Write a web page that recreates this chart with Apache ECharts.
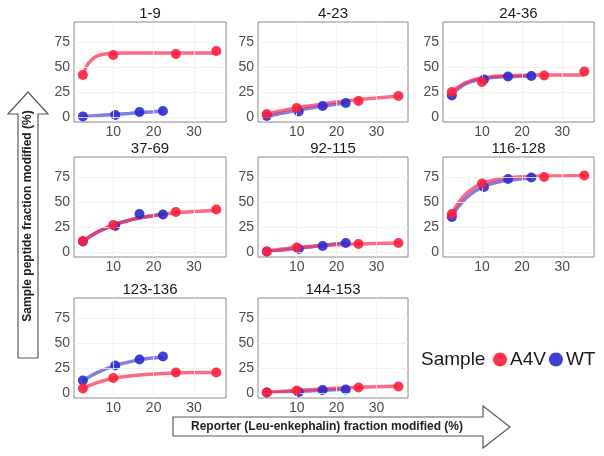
<!DOCTYPE html>
<html>
<head>
<meta charset="utf-8">
<script src="https://cdn.jsdelivr.net/npm/echarts@6/dist/echarts.min.js"></script>
<style>html,body{margin:0;padding:0;background:#fff}#c{width:604px;height:456px}</style>
</head>
<body>
<div id="c"></div>
<script>
// ---- data ----
const panelTitles = ['1-9', '4-23', '24-36', '37-69', '92-115', '116-128', '123-136', '144-153'];
const seriesNames = ['A4V', 'WT'];
const yTicks = [0, 25, 50, 75];
const xTicks = [10, 20, 30];

// measured points (reporter % modified)
const xA4V = [2.5, 10, 25.5, 35.5];
const xWT = [2.5, 10.5, 16.5, 22.3];

const a4v_1_9 = [42, 62, 63, 66];
const wt_1_9 = [0.5, 2, 5, 6];
const a4v_4_23 = [3, 9, 16, 21];
const wt_4_23 = [1, 5.5, 11, 14];
const a4v_24_36 = [25, 35, 41.5, 45.5];
const wt_24_36 = [21.5, 37.5, 40.5, 41];
const a4v_37_69 = [11, 27, 40, 42.5];
const wt_37_69 = [10.5, 26, 38, 37.5];
const a4v_92_115 = [0.5, 4.5, 8, 9];
const wt_92_115 = [0.5, 3, 6, 9];
const a4v_116_128 = [38, 68.5, 75, 76.5];
const wt_116_128 = [35, 65, 73, 74.5];
const a4v_123_136 = [4.5, 15, 20.5, 20.5];
const wt_123_136 = [12.5, 27.5, 33.5, 36.5];
const a4v_144_153 = [0.5, 2.5, 5.5, 6.5];
const wt_144_153 = [0.5, 1, 3, 3.5];

// fitted curves at these x positions
const fitXA4V = [2.5, 3, 3.5, 4, 5, 6, 7, 8.5, 10, 12, 14, 16.5, 20, 25, 30, 35.5];
const fitXWT = [2.5, 3, 3.5, 4, 5, 6, 7, 8.5, 10.5, 12, 14, 16.5, 19.5, 22.3];

const fitA4V_1_9 = [42, 47.3, 51.3, 54.4, 58.4, 60.8, 62.2, 63.2, 63.6, 63.9, 64, 64, 64, 64, 64, 64];
const fitWT_1_9 = [0.5, 0.6, 0.7, 0.8, 1.1, 1.4, 1.7, 2.1, 2.7, 3.1, 3.6, 4.3, 5.1, 5.8];
const fitA4V_4_23 = [3, 3.4, 3.9, 4.3, 5.2, 6, 6.8, 8, 9, 10.4, 11.6, 13, 15, 17.2, 19, 21];
const fitWT_4_23 = [0.8, 1.2, 1.6, 2, 2.8, 3.6, 4.3, 5.4, 6.9, 8, 9.3, 10.9, 12.6, 14];
const fitA4V_24_36 = [24.5, 26.4, 28.2, 29.7, 32.3, 34.3, 35.9, 37.7, 39, 40.1, 40.8, 41.4, 41.7, 41.9, 42, 42];
const fitWT_24_36 = [22, 24.3, 26.3, 28, 30.9, 33.2, 34.9, 36.8, 38.5, 39.3, 40, 40.45, 40.75, 40.9];
const fitA4V_37_69 = [11, 12.4, 13.8, 15.1, 17.6, 19.8, 21.8, 24.6, 26.9, 29.7, 31.9, 34.2, 36.6, 39, 40.4, 41.5];
const fitWT_37_69 = [10.5, 12, 13.4, 14.8, 17.3, 19.6, 21.6, 24.4, 27.5, 29.5, 31.8, 34, 36.1, 37.6];
const fitA4V_92_115 = [0.8, 1.1, 1.4, 1.7, 2.2, 2.7, 3.2, 3.9, 4.5, 5.2, 5.8, 6.5, 7.3, 8.1, 8.6, 9.1];
const fitWT_92_115 = [0.5, 0.6, 0.8, 1, 1.4, 1.8, 2.3, 2.9, 3.8, 4.4, 5.3, 6.6, 7.9, 9];
const fitA4V_116_128 = [38, 41.8, 45.3, 48.3, 53.6, 57.9, 61.3, 65.4, 68.3, 71, 72.8, 74.2, 75.2, 75.9, 76.1, 76.2];
const fitWT_116_128 = [35, 38.4, 41.6, 44.5, 49.5, 53.7, 57.2, 61.4, 65.5, 67.8, 70, 71.8, 73.1, 73.9];
const fitA4V_123_136 = [4.5, 5.5, 6.4, 7.3, 8.9, 10.3, 11.6, 13.2, 14.5, 15.9, 17, 18.1, 19.1, 20, 20.5, 20.7];
const fitWT_123_136 = [12, 13.4, 14.7, 15.9, 18.2, 20.3, 22.1, 24.6, 27.4, 29.2, 31.1, 33.1, 34.9, 36.1];
const fitA4V_144_153 = [0.5, 0.6, 0.8, 0.9, 1.2, 1.5, 1.8, 2.2, 2.6, 3.1, 3.5, 4.1, 4.8, 5.6, 6.2, 6.8];
const fitWT_144_153 = [0.5, 0.5, 0.6, 0.6, 0.8, 0.9, 1.1, 1.3, 1.6, 1.9, 2.2, 2.7, 3.2, 3.7];

const a4vPoints = [a4v_1_9, a4v_4_23, a4v_24_36, a4v_37_69, a4v_92_115, a4v_116_128, a4v_123_136, a4v_144_153];
const wtPoints = [wt_1_9, wt_4_23, wt_24_36, wt_37_69, wt_92_115, wt_116_128, wt_123_136, wt_144_153];
const a4vFits = [fitA4V_1_9, fitA4V_4_23, fitA4V_24_36, fitA4V_37_69, fitA4V_92_115, fitA4V_116_128, fitA4V_123_136, fitA4V_144_153];
const wtFits = [fitWT_1_9, fitWT_4_23, fitWT_24_36, fitWT_37_69, fitWT_92_115, fitWT_116_128, fitWT_123_136, fitWT_144_153];

// ---- layout ----
const FONT = '"Liberation Sans", Arial, sans-serif';
const colLeft = [74, 258, 443];
const colWidth = [152, 150, 151];
const rowTop = [22, 157, 298];
const rowHeight = [100, 100, 100];
const RED = '#ff1f3c', BLUE = '#2b2bd0';
const RED_LINE = '#ff2a4d', BLUE_LINE = '#3a3ad6';

const zip = (xs, ys) => xs.map((x, i) => [x, ys[i]]);

const grids = [], xAxes = [], yAxes = [], series = [], graphics = [];
panelTitles.forEach((t, i) => {
  const r = Math.floor(i / 3), c = i % 3;
  grids.push({left: colLeft[c], top: rowTop[r], width: colWidth[c], height: rowHeight[r],
    show: true, borderColor: '#8a8a8a', borderWidth: 1, backgroundColor: '#fff', containLabel: false});
  xAxes.push({gridIndex: i, type: 'value', min: 0.3, max: 37.9,
    axisLine: {show: false}, axisTick: {show: false}, splitLine: {show: false},
    axisLabel: {customValues: xTicks, fontSize: 14, color: '#4d4d4d', margin: 3, fontFamily: FONT}});
  yAxes.push({gridIndex: i, type: 'value', min: -5, max: 95,
    axisLine: {show: false}, axisTick: {show: false}, splitLine: {show: false},
    axisLabel: {customValues: yTicks, fontSize: 14, color: '#4d4d4d', margin: 4, fontFamily: FONT}});
  // faint grid lines
  series.push({type: 'line', xAxisIndex: i, yAxisIndex: i, data: [], silent: true, z: 1,
    markLine: {silent: true, symbol: 'none', animation: false, label: {show: false},
      lineStyle: {color: '#efefef', width: 0.8, type: 'solid'},
      data: yTicks.map(v => ({yAxis: v})).concat(xTicks.map(v => ({xAxis: v})))}});
  series.push({name: 'WT fit', type: 'line', xAxisIndex: i, yAxisIndex: i, data: zip(fitXWT, wtFits[i]),
    smooth: 0.3, showSymbol: false, symbol: 'none', z: 2,
    lineStyle: {width: 3.5, color: BLUE_LINE, opacity: 0.65}, itemStyle: {color: BLUE}});
  series.push({name: 'A4V fit', type: 'line', xAxisIndex: i, yAxisIndex: i, data: zip(fitXA4V, a4vFits[i]),
    smooth: 0.3, showSymbol: false, symbol: 'none', z: 3,
    lineStyle: {width: 3.5, color: RED_LINE, opacity: 0.7}, itemStyle: {color: RED}});
  series.push({name: 'WT', type: 'scatter', xAxisIndex: i, yAxisIndex: i, data: zip(xWT, wtPoints[i]),
    symbolSize: 10, z: 4, itemStyle: {color: BLUE, opacity: 0.9}});
  series.push({name: 'A4V', type: 'scatter', xAxisIndex: i, yAxisIndex: i, data: zip(xA4V, a4vPoints[i]),
    symbolSize: 10, z: 5, itemStyle: {color: RED, opacity: 0.9}});
  graphics.push({type: 'text', x: colLeft[c] + colWidth[c] / 2, y: rowTop[r] - 8,
    style: {text: t, font: '15px ' + FONT, fill: '#1a1a1a', textAlign: 'center', textVerticalAlign: 'middle'}});
});

// arrows + axis titles
graphics.push({type: 'polygon', shape: {points: [[18, 358], [18, 114], [8, 114], [28, 92], [48, 114], [38, 114], [38, 358]]},
  style: {fill: '#fff', stroke: '#5a5a5a', lineWidth: 1.2}, z: 0});
graphics.push({type: 'text', x: 28, y: 216, rotation: Math.PI / 2,
  style: {text: 'Sample peptide fraction modified (%)', font: 'bold 12px ' + FONT, fill: '#222', textAlign: 'center', textVerticalAlign: 'middle'}, z: 1});
graphics.push({type: 'polygon', shape: {points: [[173, 417], [483, 417], [483, 406], [510, 427], [483, 448], [483, 436], [173, 436]]},
  style: {fill: '#fff', stroke: '#5a5a5a', lineWidth: 1.2}, z: 0});
graphics.push({type: 'text', x: 327, y: 427,
  style: {text: 'Reporter (Leu-enkephalin) fraction modified (%)', font: 'bold 12px ' + FONT, fill: '#222', textAlign: 'center', textVerticalAlign: 'middle'}, z: 1});
graphics.push({type: 'text', x: 421, y: 360,
  style: {text: 'Sample', font: '19px ' + FONT, fill: '#1a1a1a', textAlign: 'left', textVerticalAlign: 'middle'}});

const chart = echarts.init(document.getElementById('c'), null, {renderer: 'canvas'});
chart.setOption({
  animation: false,
  backgroundColor: '#fff',
  grid: grids, xAxis: xAxes, yAxis: yAxes, series: series,
  legend: {data: seriesNames.map(n => ({name: n, icon: 'circle'})), left: 493, top: 350, padding: 0,
    itemWidth: 14, itemHeight: 14, itemGap: 3, selectedMode: false,
    textStyle: {fontSize: 19, color: '#1a1a1a', fontFamily: FONT, padding: [0, 0, 0, -2]}},
  graphic: graphics
});
</script>
</body>
</html>
